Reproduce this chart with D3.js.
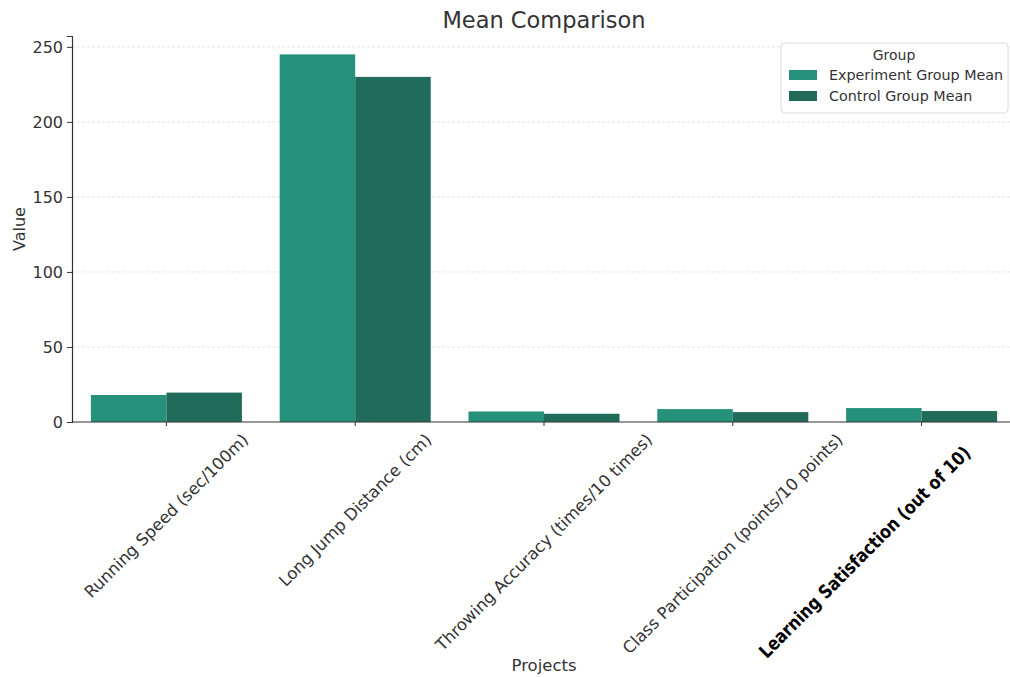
<!DOCTYPE html>
<html><head><meta charset="utf-8">
<script src="https://cdn.jsdelivr.net/npm/d3@7"></script>
<style>body{margin:0;background:#fff;} text{font-family:"DejaVu Sans",sans-serif;}</style>
</head><body><svg id="c" width="1010" height="677"></svg>
<script>
const categories = ["Running Speed (sec/100m)", "Long Jump Distance (cm)", "Throwing Accuracy (times/10 times)", "Class Participation (points/10 points)", "Learning Satisfaction (out of 10)"];
const seriesNames = ["Experiment Group Mean", "Control Group Mean"];
const experimentValues = [18, 245, 7, 8.6, 9.3];
const controlValues = [19.6, 230, 5.5, 6.6, 7.3];
const yTicks = [0, 50, 100, 150, 200, 250];
const colors = ["#25917a", "#216b5b"];

const svg = d3.select("#c");
const W = 1010, H = 677;
const m = {left: 72, right: -6, top: 36, bottom: 255};
const x0 = d3.scaleBand().domain(categories).range([m.left, W - m.right]).paddingInner(0.2).paddingOuter(0.1);
const x1 = d3.scaleBand().domain(seriesNames).range([0, x0.bandwidth()]);
const y = d3.scaleLinear().domain([0, 257.25]).range([H - m.bottom, m.top]);
const series = [experimentValues, controlValues];

// grid
svg.append("g").selectAll("line").data(yTicks.filter(d => d > 0)).join("line")
  .attr("x1", m.left).attr("x2", W).attr("y1", d => y(d)).attr("y2", d => y(d))
  .attr("stroke", "#dddddd").attr("stroke-width", 0.8).attr("stroke-dasharray", "3,2");

// bars
const g = svg.append("g");
categories.forEach((c, i) => {
  seriesNames.forEach((s, j) => {
    g.append("rect")
      .attr("x", x0(c) + x1(s)).attr("width", x1.bandwidth())
      .attr("y", y(series[j][i])).attr("height", y(0) - y(series[j][i]))
      .attr("fill", colors[j]);
  });
});

// y axis
const ya = svg.append("g").attr("transform", `translate(${m.left},0)`)
  .call(d3.axisLeft(y).tickValues(yTicks).tickSize(5).tickPadding(4));
ya.select(".domain").attr("stroke", "#333").attr("stroke-width", 1.2);
ya.selectAll(".tick line").attr("stroke", "#333");
ya.selectAll(".tick text").attr("font-size", 16).attr("fill", "#333").attr("font-family", "DejaVu Sans");

// x axis
const xa = svg.append("g").attr("transform", `translate(0,${y(0)})`)
  .call(d3.axisBottom(x0).tickSize(4).tickFormat(""));
xa.select(".domain").attr("d", `M${m.left},0H${W}`).attr("stroke", "#333").attr("stroke-width", 1.2);
xa.selectAll(".tick line").attr("stroke", "#333");

// rotated x labels (bbox centered on tick, top at fixed y)
const labelTop = 431;
categories.forEach((c, i) => {
  const last = i === categories.length - 1;
  const fh = last ? 18.5 : 16.5;
  const t = svg.append("text").text(c)
    .attr("font-size", fh).attr("font-weight", last ? "bold" : "normal")
    .attr("fill", last ? "#000" : "#333").attr("text-anchor", "middle")
    .attr("dominant-baseline", "central");
  if (last) t.attr("textLength", 290).attr("lengthAdjust", "spacingAndGlyphs");
  const len = last ? 290 : t.node().getComputedTextLength();
  const half = (len + fh) * Math.SQRT1_2 / 2;
  let cx = x0(c) + x0.bandwidth() / 2, cy = labelTop + half;
  if (last) { cx = cx - 57; cy = 443 + half; }
  t.attr("transform", `translate(${cx},${cy}) rotate(-45)`);
});

// titles
svg.append("text").attr("x", (m.left + W - m.right) / 2).attr("y", 28).attr("text-anchor", "middle")
  .attr("font-size", 22.5).attr("fill", "#333").text("Mean Comparison");
svg.append("text").attr("x", (m.left + W - m.right) / 2).attr("y", 671).attr("text-anchor", "middle")
  .attr("font-size", 16.5).attr("fill", "#333").text("Projects");
svg.append("text").attr("transform", `translate(25,${(y(0) + m.top) / 2}) rotate(-90)`).attr("text-anchor", "middle")
  .attr("font-size", 16).attr("fill", "#333").text("Value");

// legend
const lg = svg.append("g").attr("transform", "translate(781,43)");
lg.append("rect").attr("width", 227).attr("height", 70).attr("rx", 4).attr("fill", "#fff")
  .attr("fill-opacity", 0.85).attr("stroke", "#dcdcdc");
lg.append("text").attr("x", 113).attr("y", 17).attr("text-anchor", "middle").attr("font-size", 14)
  .attr("fill", "#333").text("Group");
seriesNames.forEach((s, j) => {
  lg.append("rect").attr("x", 8).attr("y", 27 + j * 21).attr("width", 28).attr("height", 10).attr("fill", colors[j]);
  lg.append("text").attr("x", 48).attr("y", 37 + j * 21).attr("font-size", 14.3).attr("fill", "#333").text(s);
});
</script></body></html>
